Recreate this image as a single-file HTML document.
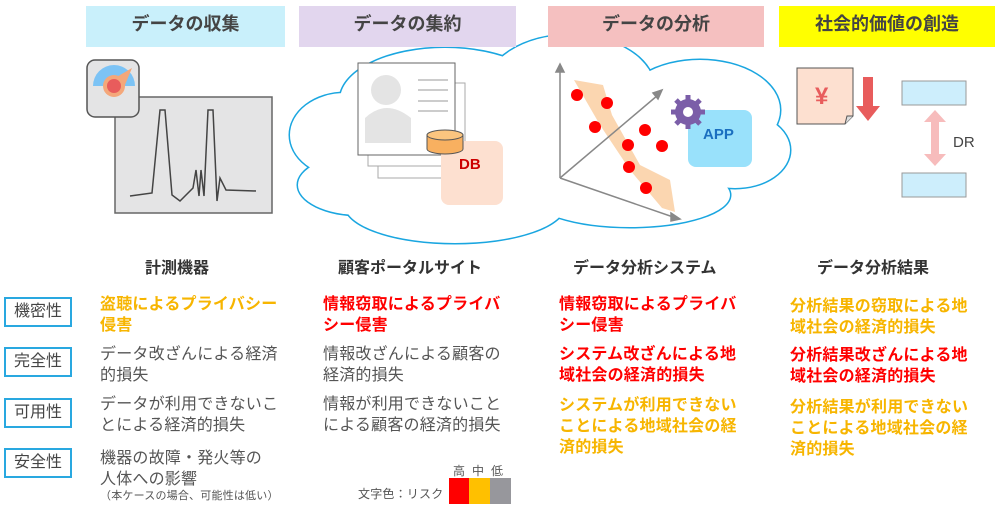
<!DOCTYPE html>
<html><head><meta charset="utf-8"><style>
body{margin:0;width:1000px;height:506px;overflow:hidden;background:#fff;font-family:"Liberation Sans","Noto Sans CJK JP",sans-serif;position:relative}
.a{position:absolute;white-space:nowrap}
.h{position:absolute;top:6px;height:41px;line-height:36px;text-align:center;font-weight:bold;font-size:18px;color:#444}
.t{position:absolute;font-weight:bold;font-size:16px;color:#333;white-space:nowrap}
.rb{position:absolute;left:4px;width:64px;height:26px;border:2px solid #29a8e0;font-size:16px;color:#444;text-align:center;line-height:26px}
.x{position:absolute;font-size:16px;line-height:21px;white-space:nowrap;letter-spacing:0.2px}
.g{color:#555}.o{color:#f7b500;font-weight:bold}.r{color:#f00;font-weight:bold}
</style></head><body>
<svg class="a" style="left:0;top:0" width="1000" height="506">
<g fill="none" stroke="#1aa6e0" stroke-width="3">
<ellipse cx="345" cy="135" rx="55" ry="42"/><ellipse cx="360" cy="185" rx="62" ry="30"/>
<ellipse cx="445" cy="100" rx="105" ry="52"/><ellipse cx="570" cy="90" rx="85" ry="55"/>
<ellipse cx="700" cy="110" rx="80" ry="50"/><ellipse cx="735" cy="150" rx="55" ry="38"/>
<ellipse cx="455" cy="205" rx="110" ry="38"/><ellipse cx="630" cy="195" rx="100" ry="32"/>
</g>
<g fill="#fff">
<ellipse cx="345" cy="135" rx="55" ry="42"/><ellipse cx="360" cy="185" rx="62" ry="30"/>
<ellipse cx="445" cy="100" rx="105" ry="52"/><ellipse cx="570" cy="90" rx="85" ry="55"/>
<ellipse cx="700" cy="110" rx="80" ry="50"/><ellipse cx="735" cy="150" rx="55" ry="38"/>
<ellipse cx="455" cy="205" rx="110" ry="38"/><ellipse cx="630" cy="195" rx="100" ry="32"/>
<ellipse cx="540" cy="150" rx="210" ry="65"/>
</g>
<rect x="115" y="97" width="157" height="116" fill="#e4e4e5" stroke="#666" stroke-width="1.5"/>
<path d="M130 196 L152 193 L160 110 L165 110 L172 195 L180 201 L193 188 L196 170 L199 196 L201 170 L204 196 L208 110 L213 110 L217 201 L220 178 L226 190 L256 191" fill="none" stroke="#444" stroke-width="1.5"/>
<rect x="87" y="60" width="52" height="57" rx="8" fill="#e4e4e5" stroke="#555" stroke-width="1.5"/>
<path d="M93 86 A20 20 0 0 1 135 86 Z" fill="#7cc3f5"/>
<path d="M108 82 L132 68 L122 92 Z" fill="#f4a77a"/>
<circle cx="114" cy="86" r="11" fill="#f4a77a"/><circle cx="114" cy="86" r="7" fill="#e85c5c"/>
<rect x="378" y="83" width="87" height="95" fill="#fff" stroke="#aaa"/>
<rect x="368" y="74" width="87" height="92" fill="#fff" stroke="#aaa"/>
<rect x="358" y="63" width="97" height="92" fill="#fff" stroke="#666"/>
<circle cx="386" cy="90" r="15" fill="#e4e4e4"/><path d="M365 143 L365 118 Q386 98 411 118 L411 143 Z" fill="#e4e4e4"/>
<g stroke="#999"><line x1="418" y1="80" x2="448" y2="80"/><line x1="418" y1="90" x2="448" y2="90"/><line x1="418" y1="101" x2="448" y2="101"/><line x1="418" y1="111" x2="448" y2="111"/></g>
<rect x="441" y="141" width="62" height="64" rx="8" fill="#fde0d0"/>
<text x="459" y="169" font-family="Liberation Sans" font-weight="bold" font-size="15" fill="#c00">DB</text>
<path d="M427 135 L427 149 A18 5 0 0 0 463 149 L463 135 Z" fill="#f8b060" stroke="#555"/><ellipse cx="445" cy="135" rx="18" ry="5" fill="#fbc57f" stroke="#555"/>
<path d="M574 80 L603 85 L612 115 L640 165 L670 180 L675 212 L662 208 L630 170 L600 125 Z" fill="#fbd6b0"/>
<g stroke="#888" stroke-width="1.5" fill="#888"><line x1="560" y1="178" x2="560" y2="70"/><path d="M556 72 L560 64 L564 72Z"/>
<line x1="560" y1="178" x2="658" y2="95"/><path d="M653 93 L662 90 L658 99Z"/>
<line x1="560" y1="178" x2="676" y2="218"/><path d="M671 213 L680 219 L671 221Z"/></g>
<g fill="#f00"><circle cx="577" cy="95" r="6"/><circle cx="607" cy="103" r="6"/><circle cx="595" cy="127" r="6"/><circle cx="645" cy="130" r="6"/><circle cx="628" cy="145" r="6"/><circle cx="662" cy="146" r="6"/><circle cx="629" cy="167" r="6"/><circle cx="646" cy="188" r="6"/></g>
<rect x="688" y="110" width="64" height="57" rx="8" fill="#99e1fb"/>
<text x="703" y="139" font-family="Liberation Sans" font-weight="bold" font-size="15" fill="#1a6fc0">APP</text>
<g fill="#7b5ea8"><circle cx="688" cy="112" r="13"/><g stroke="#7b5ea8" stroke-width="5"><line x1="688" y1="95" x2="688" y2="129"/><line x1="671" y1="112" x2="705" y2="112"/><line x1="676" y1="100" x2="700" y2="124"/><line x1="700" y1="100" x2="676" y2="124"/></g></g>
<circle cx="688" cy="112" r="5" fill="#fff"/>
<path d="M797 68 L853 68 L853 116 L845 124 L797 124 Z" fill="#fde0d0" stroke="#555"/>
<path d="M845 124 L847 116 L853 116" fill="#ddd" stroke="#555"/>
<text x="815" y="104" font-family="Liberation Sans" font-weight="bold" font-size="24" fill="#e85c5c">¥</text>
<path d="M863 77 L873 77 L873 106 L880 106 L868 121 L856 106 L863 106 Z" fill="#e85c5c"/>
<rect x="902" y="81" width="64" height="24" fill="#cdeefc" stroke="#999"/>
<rect x="902" y="173" width="64" height="24" fill="#cdeefc" stroke="#999"/>
<path d="M935 110 L946 122 L939 122 L939 154 L946 154 L935 166 L924 154 L931 154 L931 122 L924 122 Z" fill="#f7bcbc"/>
<text x="953" y="147" font-family="Liberation Sans" font-size="15" fill="#444">DR</text>
</svg>
<div class="h" style="left:86px;width:199px;background:#c9f0fb">データの収集</div>
<div class="h" style="left:299px;width:217px;background:#e2d6ee">データの集約</div>
<div class="h" style="left:548px;width:216px;background:#f5c0c0">データの分析</div>
<div class="h" style="left:779px;width:216px;background:#ffff00">社会的価値の創造</div>
<div class="t" style="left:145px;top:254px">計測機器</div>
<div class="t" style="left:338px;top:254px">顧客ポータルサイト</div>
<div class="t" style="left:573px;top:254px">データ分析システム</div>
<div class="t" style="left:817px;top:254px">データ分析結果</div>
<div class="rb" style="top:297px">機密性</div>
<div class="rb" style="top:347px">完全性</div>
<div class="rb" style="top:398px">可用性</div>
<div class="rb" style="top:448px">安全性</div>
<div class="x o" style="left:100px;top:294px">盗聴によるプライバシー<br>侵害</div>
<div class="x g" style="left:100px;top:344px">データ改ざんによる経済<br>的損失</div>
<div class="x g" style="left:100px;top:394px">データが利用できないこ<br>とによる経済的損失</div>
<div class="x g" style="left:100px;top:448px">機器の故障・発火等の<br>人体への影響</div>
<div class="x g" style="left:100px;top:490px;font-size:11px;line-height:13px">（本ケースの場合、可能性は低い）</div>
<div class="x r" style="left:323px;top:294px">情報窃取によるプライバ<br>シー侵害</div>
<div class="x g" style="left:323px;top:344px">情報改ざんによる顧客の<br>経済的損失</div>
<div class="x g" style="left:323px;top:394px">情報が利用できないこと<br>による顧客の経済的損失</div>
<div class="x r" style="left:559px;top:294px">情報窃取によるプライバ<br>シー侵害</div>
<div class="x r" style="left:559px;top:344px">システム改ざんによる地<br>域社会の経済的損失</div>
<div class="x o" style="left:559px;top:395px">システムが利用できない<br>ことによる地域社会の経<br>済的損失</div>
<div class="x o" style="left:790px;top:296px">分析結果の窃取による地<br>域社会の経済的損失</div>
<div class="x r" style="left:790px;top:345px">分析結果改ざんによる地<br>域社会の経済的損失</div>
<div class="x o" style="left:790px;top:397px">分析結果が利用できない<br>ことによる地域社会の経<br>済的損失</div>
<div class="x g" style="left:358px;top:484px;font-size:12px">文字色：リスク</div>
<div class="x g" style="left:453px;top:461px;font-size:12px;letter-spacing:7px">高中低</div>
<div class="a" style="left:449px;top:478px;width:20px;height:26px;background:#f00"></div>
<div class="a" style="left:469px;top:478px;width:21px;height:26px;background:#ffc000"></div>
<div class="a" style="left:490px;top:478px;width:21px;height:26px;background:#97979c"></div>
</body></html>
